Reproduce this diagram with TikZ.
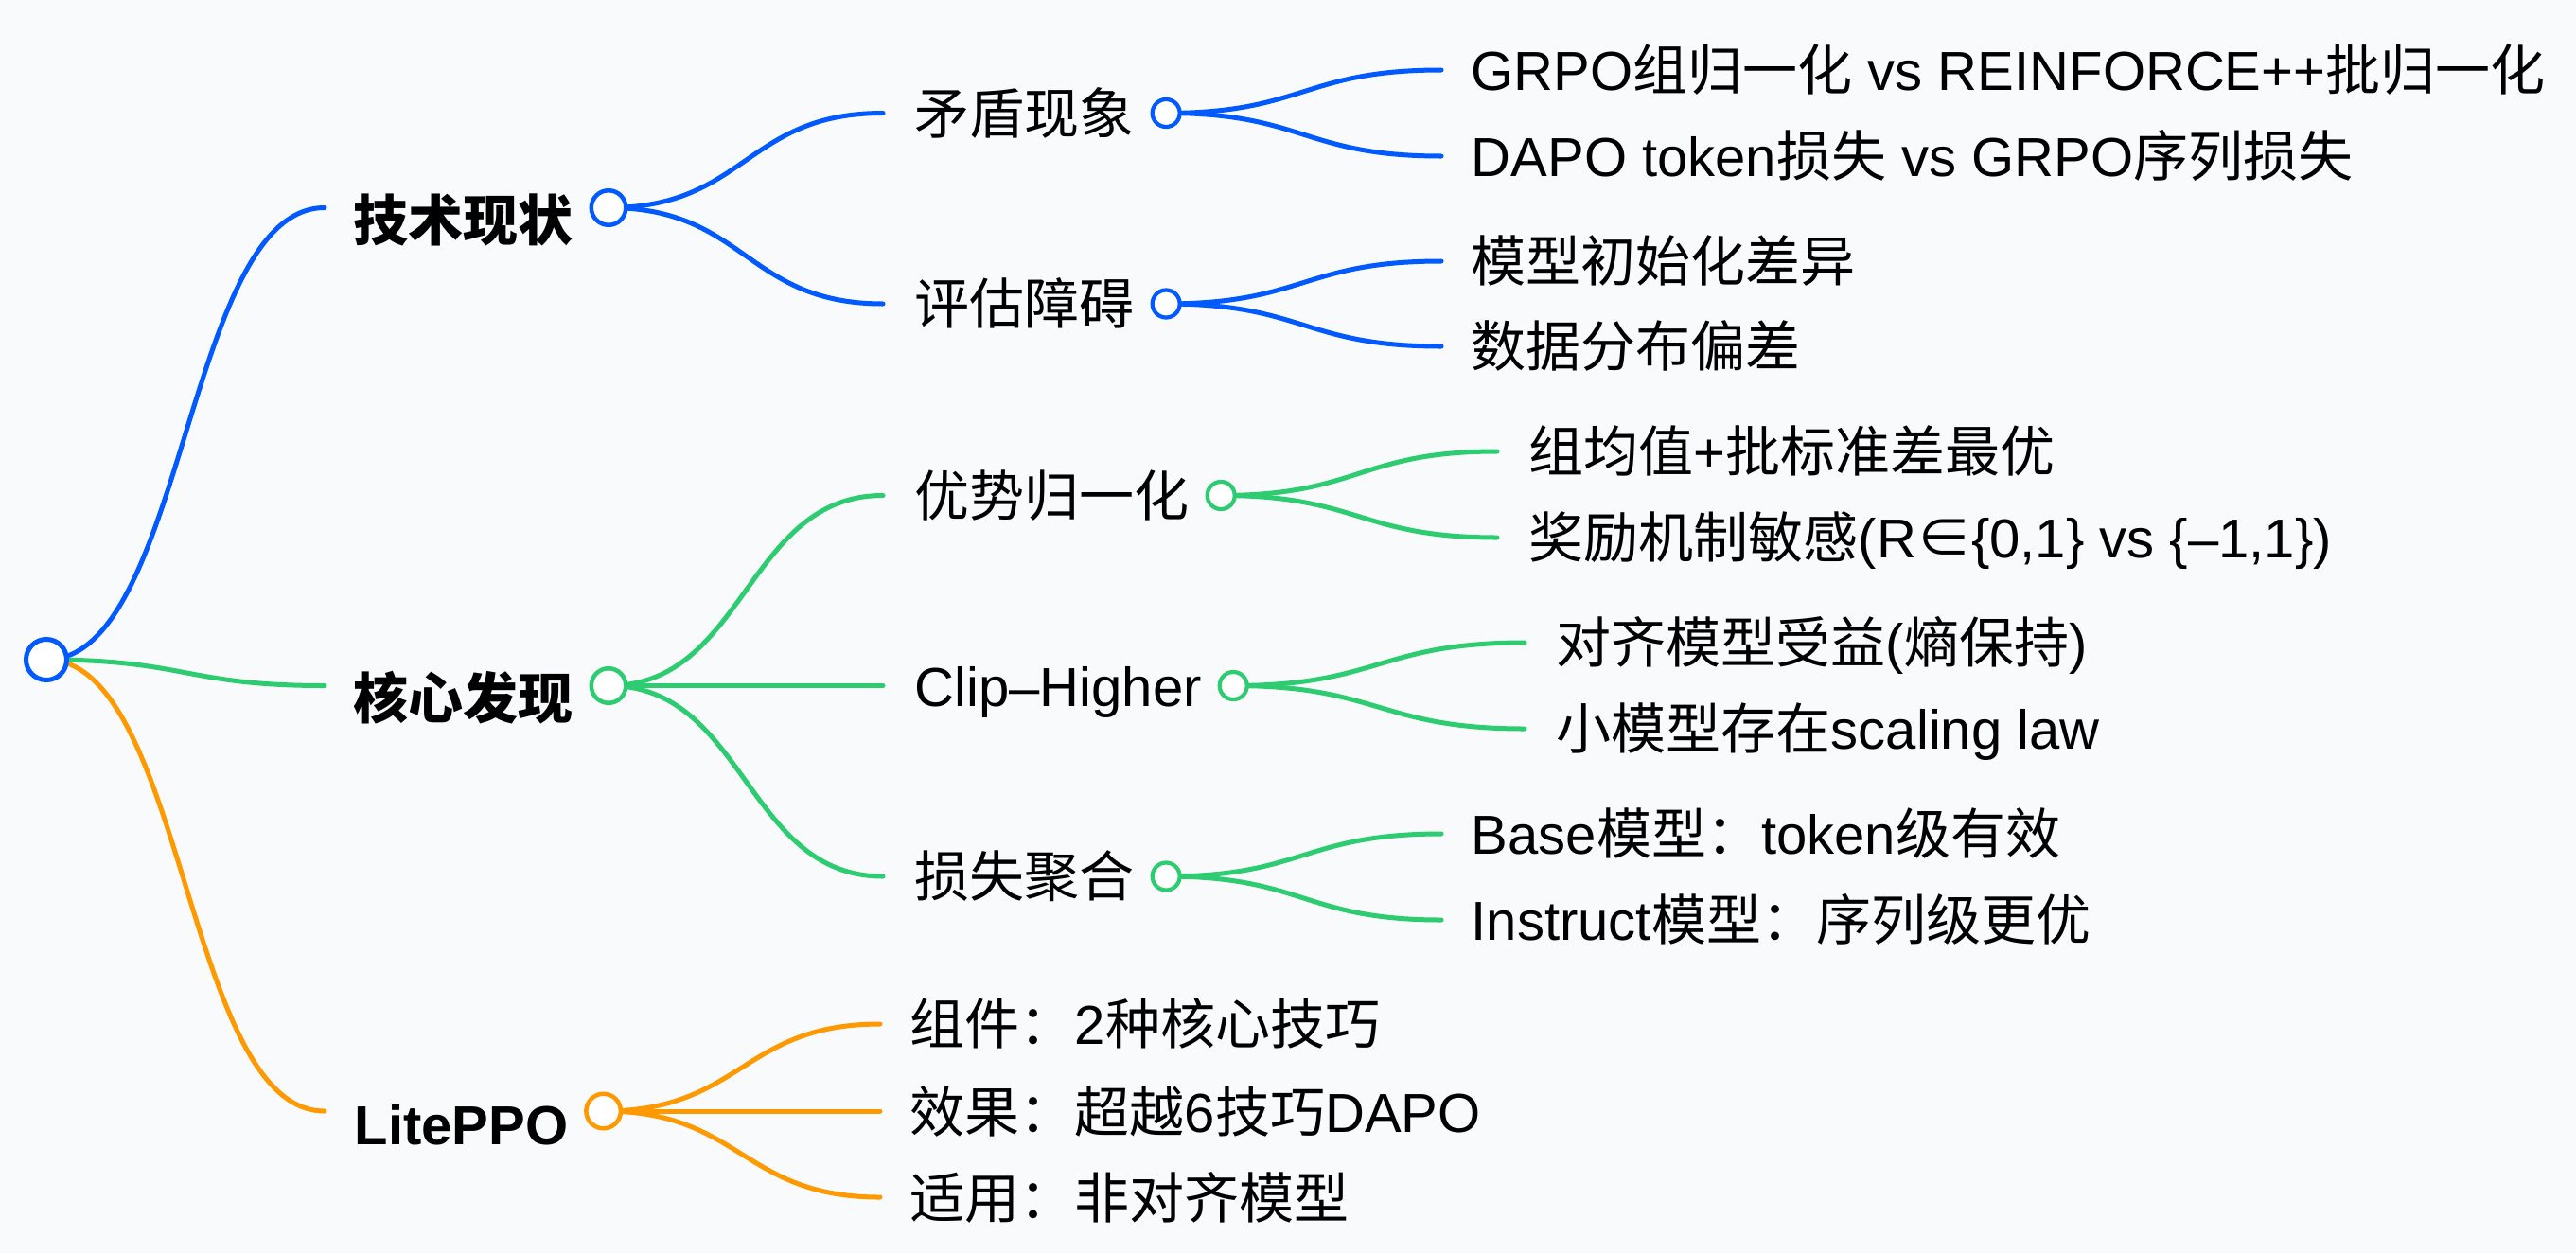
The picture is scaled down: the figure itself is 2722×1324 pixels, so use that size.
\documentclass[tikz,border=0pt]{standalone}
\usepackage{fontspec}
\setmainfont{Liberation Sans}
\newfontfamily\hanfont{Noto Sans CJK SC}
% han characters switch to the CJK family on their own
\XeTeXinterchartokenstate=1
\newXeTeXintercharclass\hanclass
\newcount\hancode
\def\sethanrange#1#2{\hancode=#1 \loop\XeTeXcharclass\hancode=\hanclass\ifnum\hancode<#2 \advance\hancode by 1 \repeat}
\sethanrange{"4E00}{"9FFF}
\sethanrange{"3000}{"303F}
\sethanrange{"FF00}{"FFEF}
\XeTeXcharclass"2208=\hanclass
\XeTeXinterchartoks 0 \hanclass = {\hanfont}
\XeTeXinterchartoks 4095 \hanclass = {\hanfont}
\XeTeXinterchartoks \hanclass 0 = {\rmfamily}
\XeTeXinterchartoks \hanclass 4095 = {\rmfamily}
\usepackage{xcolor}
\definecolor{mapBlue}{RGB}{0, 90, 255}
\definecolor{mapGreen}{RGB}{46, 204, 113}
\definecolor{mapOrange}{RGB}{255, 153, 0}
\definecolor{mapBg}{RGB}{248, 250, 252}
\usepackage{tikz}
\usetikzlibrary{
    positioning,
    backgrounds,
    calc
}
\newcommand{\mapfont}{\fontsize{16.5pt}{20pt}\selectfont}
\tikzset{
    branch/.style={
        to path={let \p1=(\tikztostart), \p2=(\tikztotarget) in
            .. controls ({(\x1+\x2)/2},\y1) and ({(\x1+\x2)/2},\y2) .. (\tikztotarget)}
    }
}

\begin{document}
\begin{tikzpicture}[
    x=0.01cm, y=-0.01cm,
    topic/.style={
        font=\mapfont, text=black,
        inner xsep=0pt, inner ysep=0pt,
        text height=14.5pt, text depth=2pt
    },
    headTopic/.style={topic, font=\mapfont\bfseries},
    dotRoot/.style={
        circle, draw=mapBlue, fill=white,
        line width=0.05cm, minimum size=0.43cm, inner sep=0pt
    },
    dotMain/.style={
        circle, fill=white,
        line width=0.045cm, minimum size=0.365cm, inner sep=0pt
    },
    dotSub/.style={
        circle, fill=white,
        line width=0.042cm, minimum size=0.29cm, inner sep=0pt
    },
    link/.style={line width=0.05cm, line cap=round, branch}
]
    \useasboundingbox (0,0) rectangle (2722,1324);

    % Root
    \node[dotRoot] (root) at (49,697) {};

    % Level 1 topics
    \coordinate (techIn) at (343,219.5);
    \coordinate (coreIn) at (343,724.5);
    \coordinate (liteIn) at (343,1174);

    \node[headTopic, right=0.3cm of techIn, yshift=-0.135cm] (tech) {技术现状};
    \node[dotMain, draw=mapBlue, right=0.16cm of tech, yshift=0.135cm] (techDot) {};

    \node[headTopic, right=0.3cm of coreIn, yshift=-0.135cm] (core) {核心发现};
    \node[dotMain, draw=mapGreen, right=0.16cm of core, yshift=0.135cm] (coreDot) {};

    \node[headTopic, right=0.31cm of liteIn, yshift=-0.135cm] (lite) {LitePPO};
    \node[dotMain, draw=mapOrange, right=0.16cm of lite, yshift=0.135cm] (liteDot) {};

    % Level 2: state of the art
    \coordinate (conflictIn) at (933,119.5);
    \coordinate (evalGapIn) at (933,321);

    \node[topic, right=0.33cm of conflictIn] (conflict) {矛盾现象};
    \node[dotSub, draw=mapBlue, right=0.16cm of conflict] (conflictDot) {};

    \node[topic, right=0.33cm of evalGapIn] (evalGap) {评估障碍};
    \node[dotSub, draw=mapBlue, right=0.16cm of evalGap] (evalGapDot) {};

    % Level 2: findings
    \coordinate (advNormIn) at (933,523.5);
    \coordinate (clipHighIn) at (933,724.5);
    \coordinate (lossAggIn) at (933,926);

    \node[topic, right=0.33cm of advNormIn] (advNorm) {优势归一化};
    \node[dotSub, draw=mapGreen, right=0.16cm of advNorm] (advNormDot) {};

    \node[topic, right=0.33cm of clipHighIn] (clipHigh) {Clip–Higher};
    \node[dotSub, draw=mapGreen, right=0.16cm of clipHigh] (clipHighDot) {};

    \node[topic, right=0.33cm of lossAggIn] (lossAgg) {损失聚合};
    \node[dotSub, draw=mapGreen, right=0.16cm of lossAgg] (lossAggDot) {};

    % Level 2: LitePPO leaves
    \coordinate (litePartsIn) at (930,1082);
    \coordinate (liteGainIn) at (930,1174);
    \coordinate (liteScopeIn) at (930,1265);

    \node[topic, right=0.31cm of litePartsIn] (liteParts) {组件：2种核心技巧};
    \node[topic, right=0.31cm of liteGainIn] (liteGain) {效果：超越6技巧DAPO};
    \node[topic, right=0.31cm of liteScopeIn] (liteScope) {适用：非对齐模型};

    % Level 3 leaves
    \coordinate (groupNormIn) at (1523,74);
    \coordinate (tokenLossIn) at (1523,165);
    \coordinate (initDiffIn) at (1523,276);
    \coordinate (dataBiasIn) at (1523,366);
    \coordinate (meanStdIn) at (1582,477);
    \coordinate (rewardSensIn) at (1582,568);
    \coordinate (alignGainIn) at (1611,679);
    \coordinate (scaleLawIn) at (1611,770);
    \coordinate (baseTokIn) at (1523,881);
    \coordinate (instSeqIn) at (1523,972);

    \node[topic, right=0.31cm of groupNormIn] (groupNorm) {GRPO组归一化 vs REINFORCE++批归一化};
    \node[topic, right=0.31cm of tokenLossIn] (tokenLoss) {DAPO token损失 vs GRPO序列损失};
    \node[topic, right=0.31cm of initDiffIn] (initDiff) {模型初始化差异};
    \node[topic, right=0.31cm of dataBiasIn] (dataBias) {数据分布偏差};
    \node[topic, right=0.33cm of meanStdIn] (meanStd) {组均值+批标准差最优};
    \node[topic, right=0.33cm of rewardSensIn] (rewardSens) {奖励机制敏感(R∈\{0,1\} vs \{–1,1\})};
    \node[topic, right=0.33cm of alignGainIn] (alignGain) {对齐模型受益(熵保持)};
    \node[topic, right=0.33cm of scaleLawIn] (scaleLaw) {小模型存在scaling law};
    \node[topic, right=0.31cm of baseTokIn] (baseTok) {Base模型：token级有效};
    \node[topic, right=0.31cm of instSeqIn] (instSeq) {Instruct模型：序列级更优};

    % Links, behind the dots
    \begin{scope}[on background layer]
        \fill[mapBg] (0,0) rectangle (2722,1324);

        \draw[link, mapBlue] (root.center) to (techIn);
        \draw[link, mapGreen] (root.center) to (coreIn);
        \draw[link, mapOrange] (root.center) to (liteIn);

        \draw[link, mapBlue] (techDot.center) to (conflictIn);
        \draw[link, mapBlue] (techDot.center) to (evalGapIn);
        \draw[link, mapBlue] (conflictDot.center) to (groupNormIn);
        \draw[link, mapBlue] (conflictDot.center) to (tokenLossIn);
        \draw[link, mapBlue] (evalGapDot.center) to (initDiffIn);
        \draw[link, mapBlue] (evalGapDot.center) to (dataBiasIn);

        \draw[link, mapGreen] (coreDot.center) to (advNormIn);
        \draw[link, mapGreen] (coreDot.center) to (clipHighIn);
        \draw[link, mapGreen] (coreDot.center) to (lossAggIn);
        \draw[link, mapGreen] (advNormDot.center) to (meanStdIn);
        \draw[link, mapGreen] (advNormDot.center) to (rewardSensIn);
        \draw[link, mapGreen] (clipHighDot.center) to (alignGainIn);
        \draw[link, mapGreen] (clipHighDot.center) to (scaleLawIn);
        \draw[link, mapGreen] (lossAggDot.center) to (baseTokIn);
        \draw[link, mapGreen] (lossAggDot.center) to (instSeqIn);

        \draw[link, mapOrange] (liteDot.center) to (litePartsIn);
        \draw[link, mapOrange] (liteDot.center) to (liteGainIn);
        \draw[link, mapOrange] (liteDot.center) to (liteScopeIn);
    \end{scope}

\end{tikzpicture}
\end{document}
